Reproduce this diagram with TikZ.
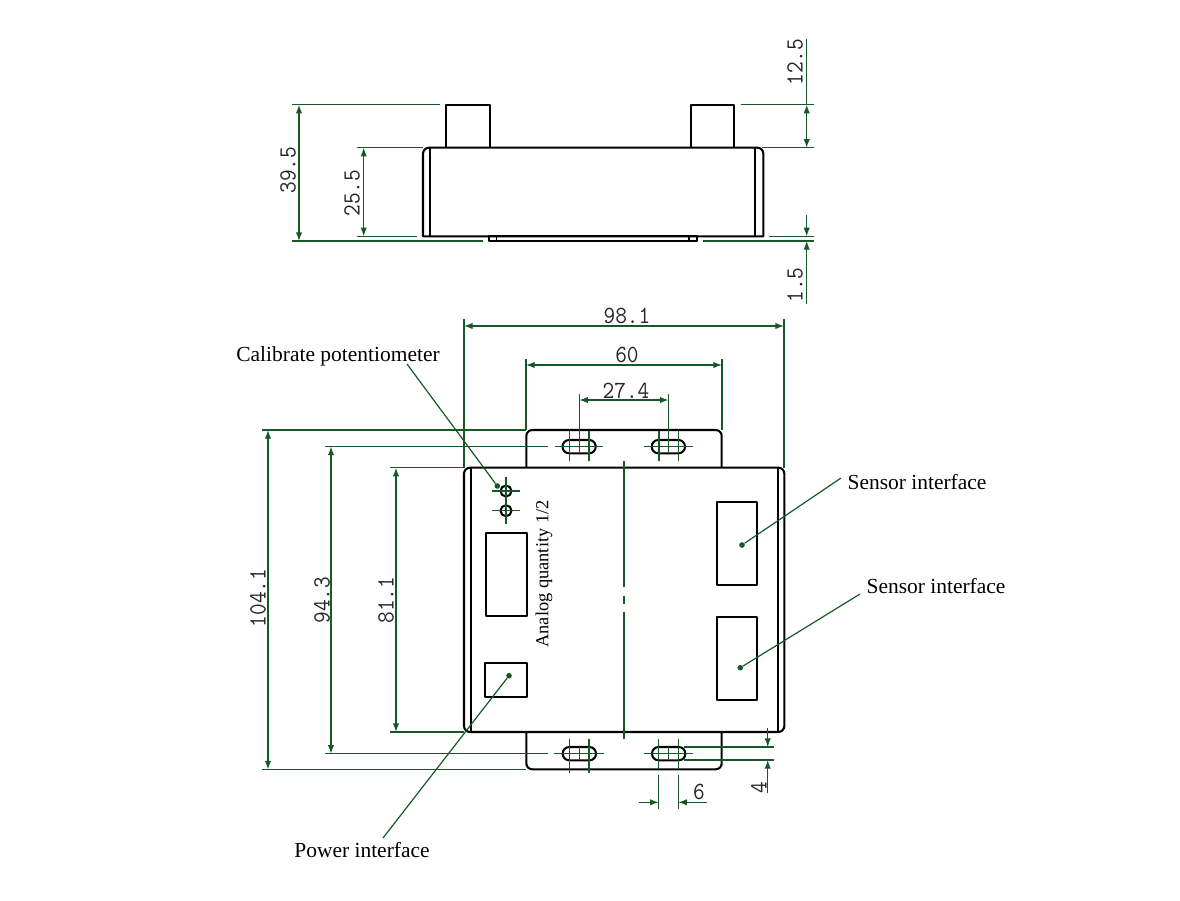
\documentclass[tikz,border=0pt]{standalone}
\usepackage{fontspec}
\setmainfont{Liberation Serif}
\newfontfamily\dimfont[FakeStretch=0.92]{Latin Modern Mono}
\usetikzlibrary{arrows.meta}
\definecolor{dimgreen}{RGB}{22,88,40}
\tikzset{
  x=0.75pt,y=-0.75pt,
  part/.style={black,line width=1.55pt,line join=round},
  round4/.style={rounded corners=4.5pt},
  slotline/.style={rounded corners=4.9pt},
  dimline/.style={dimgreen,line width=0.9pt},
  arr/.style={dimline,-{Latex[length=6.5pt,width=4.8pt]}},
  arrs/.style={dimline,{Latex[length=6.5pt,width=4.8pt]}-{Latex[length=6.5pt,width=4.8pt]}},
  dimtext/.style={inner sep=0pt,font=\dimfont\fontsize{18.5}{20}\selectfont,text=black!85},
  calllabel/.style={inner sep=0pt,font=\rmfamily\fontsize{16.1}{18}\selectfont,text=black},
  leader/.style={dimline},
  leaderdot/.style={circle,fill=dimgreen,inner sep=0pt,minimum size=4.2pt},
}
\begin{document}
\begin{tikzpicture}
\useasboundingbox (0,0) rectangle (1180,900);
% ---------- top view: part
\draw[part] (445.7,147.7) -- (445.7,104.7) -- (489.7,104.7) -- (489.7,147.7);
\draw[part] (691,147.7) -- (691,104.7) -- (734.3,104.7) -- (734.3,147.7);
\draw[part] (423,236.3) [round4] -- (423,147.7) -- (763.3,147.7) [sharp corners] -- (763.3,236.3) -- cycle;
\draw[part] (430.3,147.7) -- (430.3,236.3);
\draw[part] (755.3,147.7) -- (755.3,236.3);
\draw[part] (489,236.3) rectangle (697,241);
\draw[part,line width=1pt] (496.3,236.3) -- (496.3,241);
\draw[part,line width=1pt] (689,236.3) -- (689,241);
% ---------- top view: dimensions
\draw[dimline] (291.7,104.7) -- (440,104.7);
\draw[dimline] (291.7,241) -- (482.7,241);
\draw[arrs] (299,104.7) -- (299,241);
\draw[dimline] (356.7,147.7) -- (423,147.7);
\draw[dimline] (356.7,236.3) -- (416.7,236.3);
\draw[arrs] (363.7,147.7) -- (363.7,236.3);
\draw[dimline] (740.7,104.7) -- (813.7,104.7);
\draw[dimline] (762.3,147.7) -- (813.7,147.7);
\draw[dimline] (768.7,236.3) -- (813.7,236.3);
\draw[dimline] (702.7,241) -- (813.7,241);
\draw[dimline] (806.7,39) -- (806.7,104.7);
\draw[arrs] (806.7,104.7) -- (806.7,147.7);
\draw[arr] (806.7,215) -- (806.7,236.3);
\draw[arr] (806.7,304) -- (806.7,241);
\node[dimtext,rotate=90] (d395) at (288,170) {39.5};
\node[dimtext,rotate=90] (d255) at (352,193) {25.5};
\node[dimtext,rotate=90] (d125) at (795,62) {12.5};
\node[dimtext,rotate=90] (d15) at (795,285) {1.5};
% ---------- front view: part
\draw[part,round4] (526.3,467.7) -- (526.3,430) -- (721.7,430) -- (721.7,467.7);
\draw[part,round4] (526.3,732) -- (526.3,769.3) -- (721.7,769.3) -- (721.7,732);
\draw[part,round4] (464,467.7) -- (464,732) -- (784.3,732) -- (784.3,467.7) -- cycle;
\draw[part] (470.7,467.7) -- (470.7,732);
\draw[part] (777.7,467.7) -- (777.7,732);
\draw[part] (486,533.3) rectangle (526.7,615.7);
\draw[part] (485.3,663.3) rectangle (526.7,696.7);
\draw[part] (716.7,501.7) rectangle (757.3,585);
\draw[part] (716.7,616.7) rectangle (757.3,700);
\draw[part,slotline] (562.5,440) rectangle (595.7,453.3);
\draw[part,slotline] (651.7,440) rectangle (685,453.3);
\draw[part,slotline] (562.7,747) rectangle (596,760.3);
\draw[part,slotline] (652,747) rectangle (685.3,760.3);
\draw[part] (506,491) circle[radius=5.5];
\draw[part] (506,510.7) circle[radius=5.5];
% ---------- front view: centre lines
\draw[dimline] (492.3,491) -- (520,491);
\draw[dimline] (492.3,510.7) -- (520,510.7);
\draw[dimline] (506,477.3) -- (506,505);
\draw[dimline] (506,497) -- (506,524);
\draw[dimline] (624,461) -- (624,587.3);
\draw[dimline] (624,595.7) -- (624,604.3);
\draw[dimline] (624,611.7) -- (624,739.3);
\draw[dimline] (554.7,446.5) -- (603.3,446.5);
\draw[dimline] (644,446.5) -- (693,446.5);
\draw[dimline] (569.3,431) -- (569.3,461);
\draw[dimline] (589,431) -- (589,461);
\draw[dimline] (659,431) -- (659,461);
\draw[dimline] (678.3,431) -- (678.3,461);
\draw[dimline] (554.3,753.7) -- (604,753.7);
\draw[dimline] (643.7,753.7) -- (693.3,753.7);
\draw[dimline] (569.3,739) -- (569.3,773);
\draw[dimline] (589,739) -- (589,773);
\draw[dimline] (658.7,739) -- (658.7,769.3);
\draw[dimline] (678.3,739) -- (678.3,769.3);
\draw[dimline] (579.3,747) -- (579.3,760.3);
\draw[dimline] (668.5,747) -- (668.5,760.3);
% ---------- front view: dimensions
\draw[dimline] (464,319) -- (464,467.7);
\draw[dimline] (784,319) -- (784,467.7);
\draw[arrs] (464,326) -- (784,326);
\draw[dimline] (526,359) -- (526,430);
\draw[dimline] (722,359) -- (722,430);
\draw[arrs] (526,365) -- (722,365);
\draw[dimline] (579.3,394) -- (579.3,453.3);
\draw[dimline] (668.5,394) -- (668.5,453.3);
\draw[arrs] (579.3,400) -- (668.5,400);
\draw[dimline] (262,430) -- (526,430);
\draw[dimline] (262,769.5) -- (526,769.5);
\draw[arrs] (268,430) -- (268,769.5);
\draw[dimline] (325,446.5) -- (548,446.5);
\draw[dimline] (325,753.7) -- (548,753.7);
\draw[arrs] (331,446.5) -- (331,753.7);
\draw[dimline] (390,467.7) -- (464,467.7);
\draw[dimline] (390,732) -- (464,732);
\draw[arrs] (396,467.7) -- (396,732);
\draw[dimline] (658.7,775) -- (658.7,809);
\draw[dimline] (678.3,775) -- (678.3,809);
\draw[arr] (639,802.3) -- (658.7,802.3);
\draw[arr] (706.7,802.3) -- (678.3,802.3);
\draw[dimline] (684.3,747) -- (774.3,747);
\draw[dimline] (684.3,760) -- (774.3,760);
\draw[arr] (767.7,727.7) -- (767.7,747);
\draw[arr] (767.7,793) -- (767.7,760);
\node[dimtext] (d981) at (627,316) {98.1};
\node[dimtext] (d60) at (627,355) {60};
\node[dimtext] (d274) at (626,391) {27.4};
\node[dimtext,rotate=90] (d1041) at (258,598) {104.1};
\node[dimtext,rotate=90] (d943) at (322,600) {94.3};
\node[dimtext,rotate=90] (d811) at (386,600) {81.1};
\node[dimtext] (d6) at (699,792) {6};
\node[dimtext,rotate=90] (d4) at (759,788) {4};
% ---------- labels and leaders
\node[calllabel] (cal) at (338,356) {Calibrate potentiometer};
\node[calllabel] (sen1) at (917,482) {Sensor interface};
\node[calllabel] (sen2) at (936,586) {Sensor interface};
\node[calllabel] (pow) at (362,850) {Power interface};
\node[calllabel,rotate=90,font=\rmfamily\fontsize{13.8}{16}\selectfont] (ana) at (544,574) {Analog quantity 1/2};
\node[leaderdot] (dcal) at (497.3,486) {};
\node[leaderdot] (dsen1) at (742,545) {};
\node[leaderdot] (dsen2) at (740.3,667.7) {};
\node[leaderdot] (dpow) at (509,675.7) {};
\coordinate (lcal) at (407,364);
\coordinate (lsen1) at (841,478);
\coordinate (lsen2) at (860,594);
\coordinate (lpow) at (383,838);
\draw[leader] (lcal) -- (dcal);
\draw[leader] (lsen1) -- (dsen1);
\draw[leader] (lsen2) -- (dsen2);
\draw[leader] (lpow) -- (dpow);
\end{tikzpicture}
\end{document}
